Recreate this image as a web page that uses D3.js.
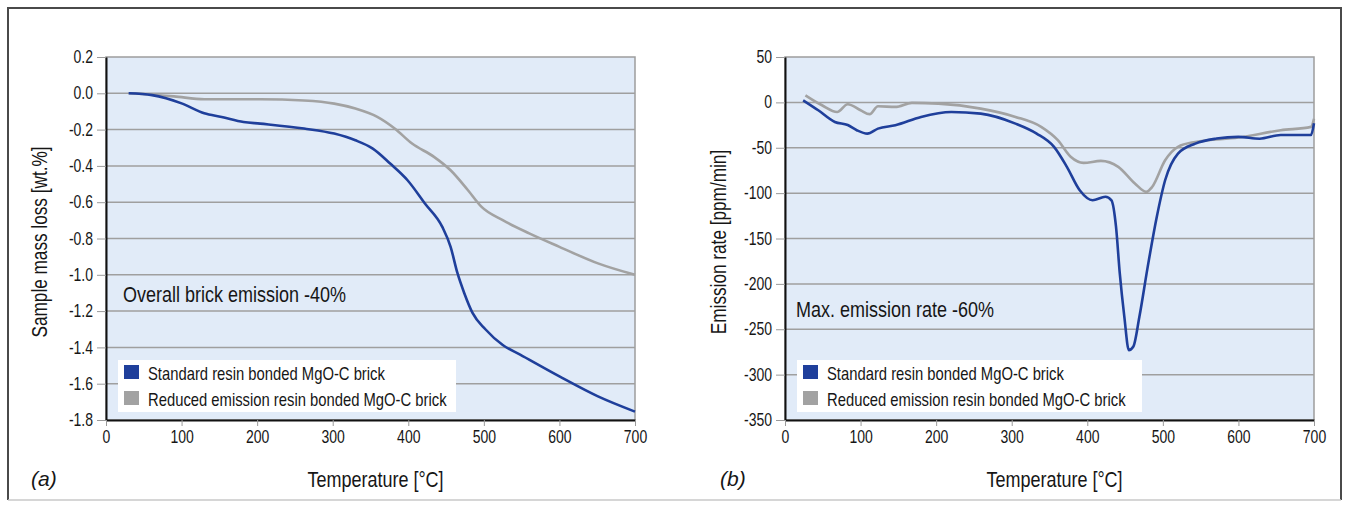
<!DOCTYPE html>
<html lang="en">
<head>
<meta charset="UTF-8">
<title>Mass loss and emission rate</title>
<style>
  body { margin: 0; background: #fff; }
  svg { display: block; }
  text { font-family: "Liberation Sans", Arial, "DejaVu Sans Condensed", sans-serif; fill: #161616; }
  .tick line { stroke: #9a9a9a; }
  .grid line { stroke: #9f9f9f; stroke-width: 1.5; }
</style>
</head>
<body>
<script src="https://cdn.jsdelivr.net/npm/d3@7"></script>
<script>
// ---- data ----
const xTicks = [0, 100, 200, 300, 400, 500, 600, 700];

// panel (a): sample mass loss [wt.%]
const massTicks = [0.2, 0.0, -0.2, -0.4, -0.6, -0.8, -1.0, -1.2, -1.4, -1.6, -1.8];
const massStdT = [30, 61, 101, 130, 153, 182, 204, 262, 302, 330, 353, 376, 399, 422, 445, 456, 465, 474, 485, 502, 525, 548, 600, 651, 700];
const massStd  = [0, -0.01, -0.057, -0.11, -0.13, -0.158, -0.167, -0.194, -0.222, -0.259, -0.305, -0.387, -0.479, -0.607, -0.736, -0.846, -0.99, -1.10, -1.21, -1.30, -1.387, -1.44, -1.56, -1.67, -1.754];
const massRedT = [30, 90, 130, 204, 262, 302, 330, 359, 382, 405, 434, 456, 479, 497, 525, 560, 600, 651, 700];
const massRed  = [0, -0.017, -0.033, -0.033, -0.04, -0.057, -0.084, -0.13, -0.194, -0.277, -0.35, -0.424, -0.534, -0.626, -0.699, -0.772, -0.846, -0.937, -1.0];

// panel (b): emission rate [ppm/min]
const rateTicks = [50, 0, -50, -100, -150, -200, -250, -300, -350];
const rateStdT = [24, 44, 66, 83, 95, 109, 123, 146, 180, 220, 259, 305, 333, 356, 373, 390, 407, 424, 432, 438, 443, 449, 455, 461, 469, 480, 492, 503, 520, 543, 571, 600, 628, 656, 696, 700];
const rateStd  = [2.3, -8.7, -21.6, -25, -30.7, -34.4, -28.9, -25.2, -16, -10.6, -12.4, -23.4, -34.4, -49, -71, -96.8, -107.8, -104, -108, -137, -188.5, -236, -273, -269, -236, -181, -126, -85.8, -56.4, -45.4, -39.9, -38, -40, -36, -36, -23];
const rateRedT = [27, 49, 69, 83, 100, 112, 123, 146, 168, 203, 259, 305, 339, 361, 378, 395, 418, 441, 463, 478, 486, 503, 520, 543, 600, 656, 696, 700];
const rateRed  = [7.8, -3.2, -10.6, -2, -8.7, -13, -4.3, -5, -0.6, -1.4, -6.9, -16, -27, -41.7, -60, -66.7, -64.5, -71, -89.4, -98.6, -93, -63.8, -49, -43.6, -38.8, -30.7, -27, -18];

const seriesNames = ["Standard resin bonded MgO-C brick", "Reduced emission resin bonded MgO-C brick"];
const seriesColors = ["#1f3f9b", "#a2a2a2"];

const NARROW = 0.8; // the original uses a condensed face, squeeze a regular one

// ---- layout ----
const W = 1353, H = 507;
const svg = d3.select("body").append("svg").attr("width", W).attr("height", H);

// outer frame
svg.append("path")
  .attr("d", `M8,500 L8,8 L1341,8 L1341,500`)
  .attr("fill", "none").attr("stroke", "#4a4a4a").attr("stroke-width", 2);
svg.append("line").attr("x1", 8).attr("x2", 1341).attr("y1", 500).attr("y2", 500)
  .attr("stroke", "#c8c8c8").attr("stroke-width", 1.5);

// condensed text at (x, y), optional rotation
function label(g, x, y, str, size, opts = {}) {
  const sx = opts.sx || NARROW;
  const t = g.append("text")
    .attr("transform", `translate(${x},${y}) rotate(${opts.rotate || 0}) scale(${sx},1)`)
    .attr("font-size", size)
    .attr("text-anchor", opts.anchor || "start")
    .text(str);
  if (opts.italic) t.attr("font-style", "italic");
  return t;
}

function panel(opts) {
  const x = d3.scaleLinear().domain([0, 700]).range([opts.left, opts.right]);
  const y = d3.scaleLinear().domain(opts.yDomain).range([420, 57]);
  const g = svg.append("g");

  // plot background
  g.append("rect")
    .attr("x", opts.left).attr("y", 57)
    .attr("width", opts.right - opts.left).attr("height", 420 - 57)
    .attr("fill", "#e1ebf8").attr("stroke", "#9d9d9d").attr("stroke-width", 1.5);

  // horizontal grid
  g.append("g").attr("class", "grid")
    .selectAll("line").data(opts.yTicks.slice(1, -1)).join("line")
    .attr("x1", opts.left).attr("x2", opts.right)
    .attr("y1", d => y(d)).attr("y2", d => y(d));

  // axes
  const yAxis = d3.axisLeft(y).tickValues(opts.yTicks).tickFormat(opts.fmt)
    .tickSizeInner(9).tickSizeOuter(0).tickPadding(4);
  const ya = g.append("g").attr("transform", `translate(${opts.left},0)`).call(yAxis);
  ya.select(".domain").attr("stroke", "#111").attr("stroke-width", 2);
  ya.selectAll(".tick text").attr("font-size", 17.5)
    .attr("transform", `scale(${NARROW},1)`).attr("x", -13 / NARROW);

  const xAxis = d3.axisBottom(x).tickValues(xTicks).tickFormat(d3.format("d"))
    .tickSizeInner(6).tickSizeOuter(0).tickPadding(5);
  const xa = g.append("g").attr("transform", "translate(0,420)").call(xAxis);
  xa.select(".domain").attr("stroke", "#111").attr("stroke-width", 2);
  xa.selectAll(".tick text").attr("font-size", 17.5)
    .attr("transform", `scale(${NARROW},1)`);

  // series
  const lineGen = d3.line().x(d => x(d[0])).y(d => y(d[1])).curve(d3.curveMonotoneX);
  [[opts.redT, opts.red, 1], [opts.stdT, opts.std, 0]].forEach(([ts, vs, k]) => {
    g.append("path")
      .datum(ts.map((t, i) => [t, vs[i]]))
      .attr("fill", "none")
      .attr("stroke", seriesColors[k])
      .attr("stroke-width", 2.6)
      .attr("stroke-linejoin", "round")
      .attr("d", lineGen);
  });

  // annotation
  label(g, opts.noteX, opts.noteY, opts.note, 22.5);

  // legend
  const lg = g.append("g");
  lg.append("rect").attr("x", opts.left + 12).attr("y", 360)
    .attr("width", opts.legendW).attr("height", 52).attr("fill", "#fff");
  seriesNames.forEach((name, i) => {
    lg.append("rect").attr("x", opts.left + 18).attr("y", 365 + i * 26)
      .attr("width", 15).attr("height", 14).attr("fill", seriesColors[i]);
    label(lg, opts.left + 42, 379.5 + i * 26, name, 18.5);
  });

  // axis titles
  label(g, opts.left - 59, 242, opts.yTitle, 21.5, { rotate: -90, anchor: "middle" });
  label(g, (opts.left + opts.right) / 2 + 5, 487, "Temperature [°C]", 22.5, { anchor: "middle" });
  label(g, opts.tagX, 486, opts.tag, 21, { italic: true, sx: 1 });
}

panel({
  left: 106, right: 635, yDomain: [-1.8, 0.2], yTicks: massTicks,
  fmt: d => d.toFixed(1).replace("-0.0", "0.0"),
  stdT: massStdT, std: massStd, redT: massRedT, red: massRed,
  note: "Overall brick emission -40%", noteX: 123, noteY: 302,
  legendW: 338, yTitle: "Sample mass loss [wt.%]", tag: "(a)", tagX: 31
});

panel({
  left: 785, right: 1314, yDomain: [-350, 50], yTicks: rateTicks,
  fmt: d => String(d),
  stdT: rateStdT, std: rateStd, redT: rateRedT, red: rateRed,
  note: "Max. emission rate -60%", noteX: 796, noteY: 317,
  legendW: 345, yTitle: "Emission rate [ppm/min]", tag: "(b)", tagX: 720
});
</script>
</body>
</html>
